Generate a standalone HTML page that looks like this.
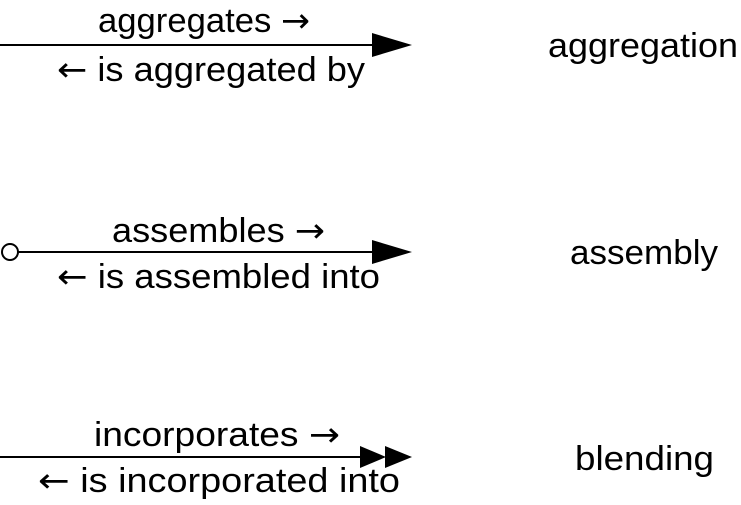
<!DOCTYPE html>
<html><head><meta charset="utf-8"><style>html,body{margin:0;padding:0;background:#fff}svg{display:block}.a{font-family:'DejaVu Sans',sans-serif;font-weight:normal}</style></head>
<body>
<svg width="741" height="505" viewBox="0 0 741 505" xmlns="http://www.w3.org/2000/svg" font-family="'Liberation Sans', sans-serif" font-size="34" fill="#000">
<!-- row 1 -->
<line x1="0" y1="45" x2="380" y2="45" stroke="#000" stroke-width="2"/>
<polygon points="372,33 412,45 372,57" fill="#000"/>
<text x="98" y="32" textLength="212" lengthAdjust="spacingAndGlyphs">aggregates <tspan class="a">→</tspan></text>
<text x="57" y="81" textLength="308" lengthAdjust="spacingAndGlyphs"><tspan class="a">←</tspan> is aggregated by</text>
<text x="548" y="57" textLength="190" lengthAdjust="spacingAndGlyphs">aggregation</text>
<!-- row 2 -->
<circle cx="10" cy="252" r="8" fill="#fff" stroke="#000" stroke-width="2"/>
<line x1="18" y1="252" x2="380" y2="252" stroke="#000" stroke-width="2"/>
<polygon points="372,240 412,252 372,264" fill="#000"/>
<text x="112" y="242" textLength="213" lengthAdjust="spacingAndGlyphs">assembles <tspan class="a">→</tspan></text>
<text x="57" y="288" textLength="323" lengthAdjust="spacingAndGlyphs"><tspan class="a">←</tspan> is assembled into</text>
<text x="570" y="264" textLength="148" lengthAdjust="spacingAndGlyphs">assembly</text>
<!-- row 3 -->
<line x1="0" y1="457" x2="370" y2="457" stroke="#000" stroke-width="2"/>
<polygon points="360,446 386,457 360,468" fill="#000"/>
<polygon points="385,446 412,457 385,468" fill="#000"/>
<text x="94" y="446" textLength="246" lengthAdjust="spacingAndGlyphs">incorporates <tspan class="a">→</tspan></text>
<text x="38" y="492" textLength="362" lengthAdjust="spacingAndGlyphs"><tspan class="a">←</tspan> is incorporated into</text>
<text x="575" y="470" textLength="139" lengthAdjust="spacingAndGlyphs">blending</text>
</svg>
</body></html>
